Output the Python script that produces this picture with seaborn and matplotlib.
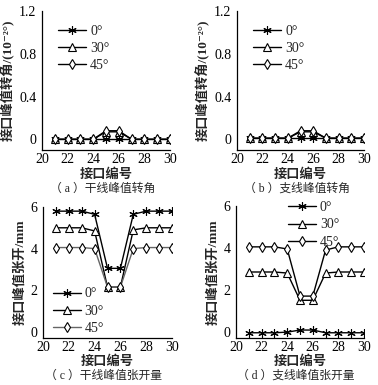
import numpy as np
import pandas as pd
import matplotlib
matplotlib.use('Agg')
import matplotlib.pyplot as plt
import seaborn as sns

sns.set_theme(style='white')
plt.rcParams['font.family'] = ['Liberation Serif', 'Noto Sans CJK SC', 'DejaVu Sans']
plt.rcParams['axes.unicode_minus'] = False

# joint numbers
joints = [21, 22, 23, 24, 25, 26, 27, 28, 29, 30]
angles = ['0°', '30°', '45°']

# (a) trunk line peak rotation, 10^-2 deg
rot_main_0 = [0, 0, 0, 0, 0.0, 0.0, 0, 0, 0, 0]
rot_main_30 = [0, 0, 0, 0, 0.07, 0.07, 0, 0, 0, 0]
rot_main_45 = [0, 0, 0, 0, 0.08, 0.08, 0, 0, 0, 0]

# (b) branch line peak rotation
rot_branch_0 = [0.01, 0.01, 0.01, 0.01, 0.01, 0.01, 0.01, 0.01, 0.01, 0.01]
rot_branch_30 = [0.01, 0.01, 0.01, 0.01, 0.07, 0.07, 0.01, 0.01, 0.01, 0.01]
rot_branch_45 = [0.01, 0.01, 0.01, 0.01, 0.08, 0.08, 0.01, 0.01, 0.01, 0.01]

# (c) trunk line peak opening, mm
open_main_0 = [5.8, 5.8, 5.8, 5.65, 3.05, 3.05, 5.65, 5.8, 5.8, 5.8]
open_main_30 = [5.0, 5.0, 5.0, 4.85, 2.15, 2.15, 4.9, 5.0, 5.0, 5.0]
open_main_45 = [4.05, 4.05, 4.05, 4.0, 2.15, 2.15, 4.0, 4.05, 4.05, 4.05]

# (d) branch line peak opening, mm
open_branch_0 = [-0.05, -0.05, -0.05, -0.02, 0.08, 0.08, -0.05, -0.05, -0.05, -0.05]
open_branch_30 = [2.85, 2.85, 2.85, 2.8, 1.5, 1.5, 2.8, 2.85, 2.85, 2.85]
open_branch_45 = [4.05, 4.05, 4.05, 3.95, 1.7, 1.7, 3.9, 4.05, 4.05, 4.05]

rot_ticks = [0, 0.4, 0.8, 1.2]
rot_tick_labels = ['0', '0.4', '0.8', '1.2']
open_ticks = [0, 2, 4, 6]
open_tick_labels = ['0', '2', '4', '6']

W, H = 378, 385
fig = plt.figure(figsize=(W / 100, H / 100), dpi=100)


def box(l, r, t, b):
    return [l / W, 1 - b / H, (r - l) / W, (b - t) / H]


markers = [(6, 2, 0), '^', 'd']
msizes = [6, 6, 5]


def panel(rect, series, colors, ylim, yticks, yticklabels, ylabel, xlab_y,
          caption, cap_y, leg_anchor):
    ax = fig.add_axes(rect)
    for vals, lab, mk, ms, c in zip(series, angles, markers, msizes, colors):
        df = pd.DataFrame({'joint': joints, 'val': vals})
        sns.lineplot(data=df, x='joint', y='val', ax=ax, color=c, lw=1.0,
                     marker=mk, markersize=ms, markerfacecolor='white',
                     markeredgecolor='black', markeredgewidth=0.8, label=lab)
    ax.set_xlim(20, 30)
    ax.set_ylim(*ylim)
    ax.set_xticks([20, 22, 24, 26, 28, 30])
    ax.set_yticks(yticks, labels=yticklabels)
    ax.tick_params(direction='in', length=3, width=0.8, labelsize=10,
                   colors='black', pad=4)
    ax.tick_params(axis='x', pad=2)
    for s in ['top', 'right']:
        ax.spines[s].set_visible(False)
    for s in ['left', 'bottom']:
        ax.spines[s].set_color('black')
        ax.spines[s].set_linewidth(0.9)
    ax.set_xlabel('')
    ax.set_ylabel(ylabel, fontsize=9.5, fontweight='bold', labelpad=3)
    pos = ax.get_position()
    cx = (pos.x0 + pos.x1) / 2
    fig.text(cx, 1 - xlab_y / H, '接口编号', ha='center', va='center',
             fontsize=9.5, fontweight='bold')
    fig.text(cx - 0.01, 1 - cap_y / H, caption, ha='center', va='center',
             fontsize=8.5)
    ax.legend(loc='upper left', bbox_to_anchor=leg_anchor, frameon=False,
              fontsize=10, handlelength=2.0, labelspacing=0.3,
              handletextpad=0.3, borderpad=0.2)
    return ax


blk = ['black', 'black', 'black']
panel(box(42, 170, 11, 150), [rot_main_0, rot_main_30, rot_main_45], blk,
      (-0.1, 1.2), rot_ticks, rot_tick_labels,
      '接口峰值转角/(10⁻²°)', 175, '（ a ）干线峰值转角', 189, (0.05, 0.97))
panel(box(237, 364, 11, 150), [rot_branch_0, rot_branch_30, rot_branch_45], blk,
      (-0.1, 1.2), rot_ticks, rot_tick_labels,
      '接口峰值转角/(10⁻²°)', 175, '（ b ）支线峰值转角', 189, (0.05, 0.97))
panel(box(43, 172, 207, 338), [open_main_0, open_main_30, open_main_45],
      ['black', 'black', '#666666'],
      (-0.3, 6), open_ticks, open_tick_labels,
      '接口峰值张开/mm', 362, '（ c ）干线峰值张开量', 376, (0.0, 0.46))
panel(box(236, 364, 206, 338), [open_branch_0, open_branch_30, open_branch_45], blk,
      (-0.3, 6), open_ticks, open_tick_labels,
      '接口峰值张开/mm', 362, '（ d ）支线峰值张开量', 376, (0.33, 1.11))

fig.savefig('out.png', dpi=100)
